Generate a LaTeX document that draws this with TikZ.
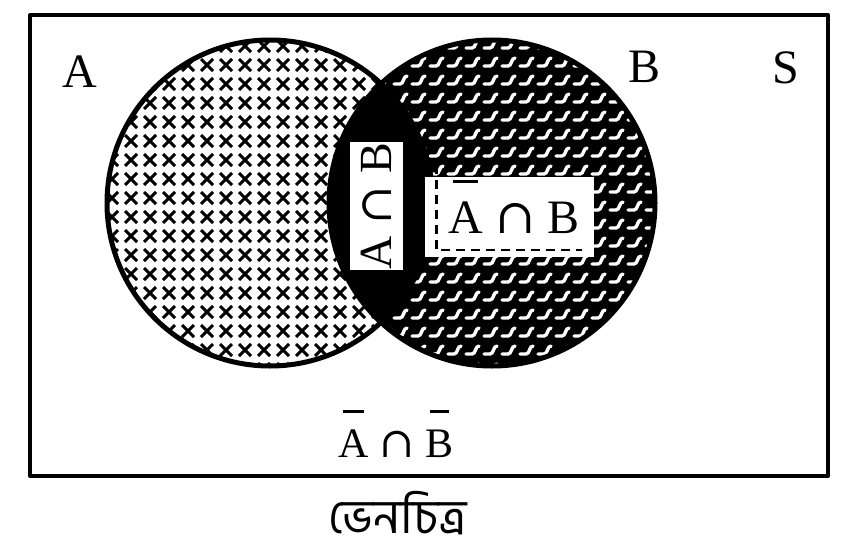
\documentclass[tikz,border=0pt]{standalone}
\usepackage{fontspec}
\setmainfont{Liberation Serif}
\newfontfamily\symfont{DejaVu Serif}
\newfontfamily\bengfont[Script=Bengali]{Hind Siliguri}
\usetikzlibrary{positioning}

% short bar over a letter
\newcommand{\barred}[1]{\setbox0\hbox{#1}\rlap{\hbox to \wd0{\hss\raisebox{1.05em}{\rule{0.7\wd0}{0.06em}}\hss}}\box0}
\newcommand{\capsym}{\hspace{0.26em}{\symfont ∩}\hspace{0.26em}}

\tikzset{
  lbl/.style={font=\fontsize{48}{50}\selectfont, inner sep=0, anchor=base},
  hook/.style={white, line width=3.4, line cap=round},
  cross/.style={black, line width=3}
}

\begin{document}
\begin{tikzpicture}[x=1pt, y=-1pt, line join=round]
\useasboundingbox (0,0) rectangle (850,559);

% set S
\draw[line width=4] (30,15) rectangle (828,476);

% B only: black ground, white hooks
\begin{scope}
\clip (492,203) circle (163);
\fill[black] (492,203) circle (163);
\foreach \y in {48,66,...,372}
  \foreach \x in {330,348,...,664}
    \draw[hook] (\x-8,\y) -- (\x-2,\y) .. controls (\x+2,\y) and (\x+1,\y-8) .. (\x+5,\y-8);
\end{scope}

% A only: crosses
\begin{scope}
\clip (270,203) circle (163);
\fill[white] (270,203) circle (163);
\foreach \y in {46,65,...,370}
  \foreach \x in {112,131,...,440}
    \draw[cross] (\x-6,\y-6) -- (\x+6,\y+6) (\x-6,\y+6) -- (\x+6,\y-6);
% A and B
\fill[black] (492,203) circle (163);
\end{scope}

% outlines
\draw[line width=5] (270,203) circle (163) (492,203) circle (163);

% labels of the regions
\node[fill=white, rotate=90, minimum width=128, minimum height=53, inner sep=0,
      font=\fontsize{46}{48}\selectfont] (AB) at (376,206) {A\capsym B};

\node[fill=white, minimum width=169, minimum height=80, inner sep=0] (nAB box) at (509,217) {};
\draw[line width=2.5, dash pattern=on 9 off 6] ([shift={(12,-12)}]nAB box.north west) |- ([shift={(-12,-7)}]nAB box.south east);
\node[lbl] (nAB) at (514,233) {\barred{A}\capsym B};

\node[lbl, font=\fontsize{42}{44}\selectfont] (nAnB) at (396,457) {\barred{A}\capsym\barred{B}};

\node[lbl] (lA) at (80,88) {A};
\node[lbl] (lB) at (644,83) {B};
\node[lbl] (lS) at (786,84) {S};

\node[inner sep=0, anchor=base, font=\bengfont\fontsize{48}{50}\selectfont] (caption) at (398,533) {ভেনচিত্র};

\end{tikzpicture}
\end{document}
